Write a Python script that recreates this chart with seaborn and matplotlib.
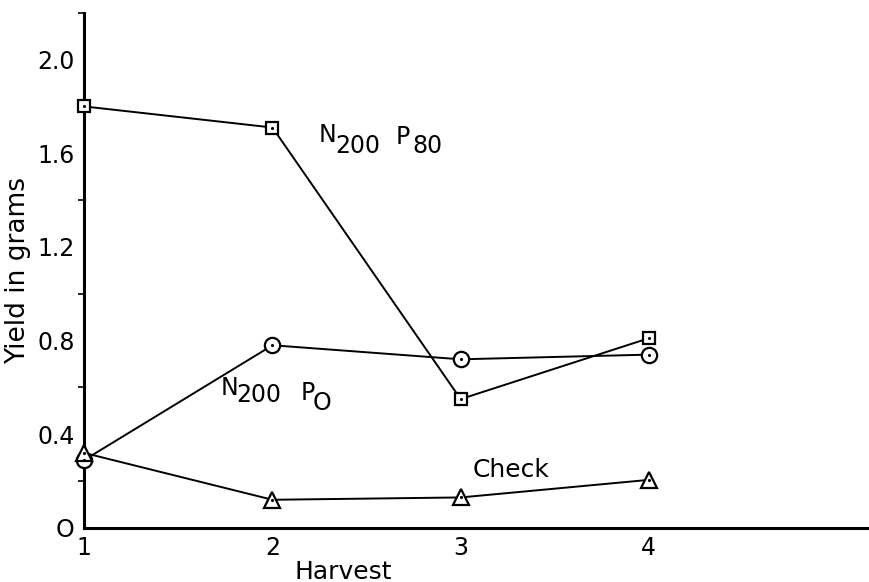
import matplotlib
matplotlib.use("Agg")
import matplotlib.pyplot as plt
import seaborn as sns
import pandas as pd
from matplotlib.ticker import MultipleLocator

sns.set_style("white")
plt.rcParams['font.family'] = ['DejaVu Sans']
plt.rcParams['text.color'] = 'black'
plt.rcParams['axes.labelcolor'] = 'black'
plt.rcParams['xtick.color'] = 'black'
plt.rcParams['ytick.color'] = 'black'

harvest = [1, 2, 3, 4]
n200p80 = [1.80, 1.71, 0.55, 0.81]
n200p0 = [0.29, 0.78, 0.72, 0.74]
check = [0.32, 0.12, 0.13, 0.205]

x_ticks = [1, 2, 3, 4]
x_tick_labels = ["1", "2", "3", "4"]
y_ticks = [0, 0.4, 0.8, 1.2, 1.6, 2.0]
y_tick_labels = ["O", "0.4", "0.8", "1.2", "1.6", "2.0"]

series = [
    ("N200P80", n200p80, "s", 9),
    ("N200P0", n200p0, "o", 11),
    ("Check", check, "^", 12),
]

fig = plt.figure(figsize=(8.69, 5.82), dpi=100)
ax = fig.add_axes([0.097, 0.093, 0.903, 0.885])

for name, vals, mk, ms in series:
    df = pd.DataFrame({"Harvest": harvest, "Yield": vals})
    sns.lineplot(data=df, x="Harvest", y="Yield", ax=ax, color="black",
                 linewidth=1.4, marker=mk, markersize=ms,
                 markerfacecolor="white", markeredgecolor="black",
                 markeredgewidth=1.6, clip_on=False, zorder=4)
    sns.scatterplot(data=df, x="Harvest", y="Yield", ax=ax, color="black",
                    s=5, marker="o", linewidth=0, zorder=5, clip_on=False)


def label(parts, anchor, size=17):
    # parts: (text, dx_px, dy_px)
    for txt, dx, dy in parts:
        ax.annotate(txt, xy=anchor, xytext=(dx, dy), textcoords="offset pixels",
                    fontsize=size, ha="left", va="baseline", color="black")


label([("N", 0, 11), ("200", 17, 0), ("P", 77, 9), ("80", 94, 0)], (2.245, 1.60))
label([("N", 0, 7), ("200", 16, 0), ("P", 80, 2), ("O", 92, -8)], (1.723, 0.539))
ax.text(3.064, 0.218, "Check", fontsize=18, ha="left", va="baseline")

ax.set_xlim(1, 5.17)
ax.set_ylim(0, 2.2)
ax.set_xticks(x_ticks)
ax.set_xticklabels(x_tick_labels)
ax.set_yticks(y_ticks)
ax.set_yticklabels(y_tick_labels)
ax.yaxis.set_minor_locator(MultipleLocator(0.2))

for side in ["top", "right"]:
    ax.spines[side].set_visible(False)
for side in ["left", "bottom"]:
    ax.spines[side].set_linewidth(2.2)
    ax.spines[side].set_color("black")

ax.tick_params(axis="both", which="major", direction="out", length=5,
               width=1.2, labelsize=17, pad=2, colors="black")
ax.tick_params(axis="y", which="minor", direction="out", length=4, width=1.2,
               left=True)
ax.tick_params(axis="x", which="major", pad=1)

ax.set_xlabel("")
ax.set_ylabel("Yield in grams", fontsize=19, labelpad=4)
fig.text(0.395, 0.006, "Harvest", fontsize=18, ha="center", va="baseline")

fig.savefig("out.png", dpi=100, facecolor="white")
